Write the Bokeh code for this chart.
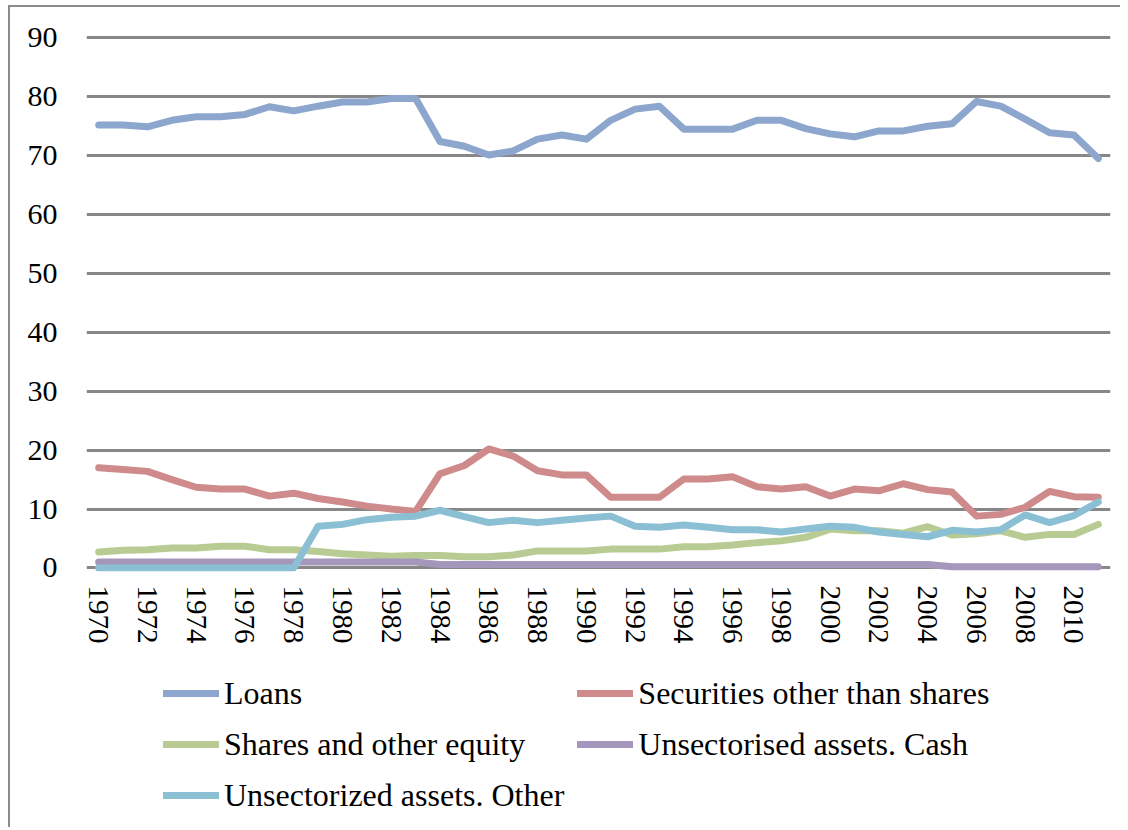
from bokeh.plotting import figure
from bokeh.layouts import column
from bokeh.models import ColumnDataSource, FixedTicker, Legend, LegendItem, Range1d
from bokeh.embed import file_html
from bokeh.resources import INLINE

years = list(range(1970, 2012))
loans = [75.2, 75.2, 74.9, 76.0, 76.6, 76.6, 77.0, 78.3, 77.6, 78.4, 79.1, 79.1, 79.7, 79.7,
         72.4, 71.6, 70.1, 70.8, 72.8, 73.5, 72.8,
         76.0, 77.9, 78.4, 74.5, 74.5, 74.5, 76.0, 76.0, 74.6, 73.7,
         73.2, 74.2, 74.2, 75.0, 75.4, 79.2, 78.4, 76.2, 73.9, 73.5, 69.5]
securities = [17.0, 16.7, 16.4, 15.0, 13.7, 13.4, 13.4, 12.2, 12.7, 11.8, 11.2, 10.5, 10.0, 9.6,
              16.0, 17.4, 20.2, 19.0, 16.5, 15.8, 15.8,
              12.0, 12.0, 12.0, 15.1, 15.1, 15.5, 13.8, 13.4, 13.8, 12.2,
              13.4, 13.1, 14.3, 13.3, 12.9, 8.8, 9.1, 10.3, 13.0, 12.1, 12.0]
shares = [2.7, 3.0, 3.1, 3.4, 3.4, 3.7, 3.7, 3.1, 3.1, 2.8, 2.4, 2.2, 2.0, 2.1,
          2.1, 1.9, 1.9, 2.2, 2.9, 2.9, 2.9,
          3.2, 3.2, 3.2, 3.6, 3.6, 3.9, 4.3, 4.6, 5.2, 6.6,
          6.3, 6.3, 5.9, 7.0, 5.6, 5.8, 6.3, 5.2, 5.7, 5.7, 7.4]
cash = [1.0] * 14 + [0.6] * 21 + [0.2] * 7
other = [0.0] * 9 + [7.1, 7.4, 8.2, 8.6, 8.8, 9.8, 8.7, 7.7, 8.1, 7.7, 8.1, 8.5,
                     8.8, 7.1, 6.9, 7.3, 6.9, 6.5, 6.5, 6.1, 6.6, 7.1,
                     6.9, 6.1, 5.7, 5.3, 6.4, 6.1, 6.5, 9.0, 7.7, 8.9, 11.2]

series_names = ["Loans", "Securities other than shares", "Shares and other equity",
                "Unsectorised assets. Cash", "Unsectorized assets. Other"]
series_colors = ["#8DA6CD", "#CF8B8B", "#B8CB93", "#A596BB", "#8BBFD4"]
y_ticks = list(range(0, 91, 10))
x_ticks = years[::2]

src = ColumnDataSource(dict(year=years, loans=loans, securities=securities,
                            shares=shares, cash=cash, other=other))
keys = ["loans", "securities", "shares", "cash", "other"]

# main chart
p = figure(width=1110, height=654, output_backend="svg", toolbar_location=None,
           x_range=Range1d(1969.5, 2011.5), y_range=Range1d(-0.6, 90.4),
           min_border_left=76, min_border_right=10, min_border_top=28, min_border_bottom=90)
p.outline_line_color = None
p.background_fill_color = "white"
p.border_fill_color = "white"

for k, c in zip(keys, series_colors):
    p.line("year", k, source=src, line_color=c, line_width=7,
           line_join="round", line_cap="round")

p.xgrid.visible = False
p.ygrid.grid_line_color = "#878787"
p.ygrid.grid_line_width = 3
p.yaxis.ticker = FixedTicker(ticks=y_ticks)
p.xaxis.ticker = FixedTicker(ticks=x_ticks)
for ax in (p.xaxis[0], p.yaxis[0]):
    ax.axis_line_color = None
    ax.major_tick_line_color = None
    ax.minor_tick_line_color = None
    ax.major_tick_out = 0
    ax.major_tick_in = 0
    ax.major_label_text_font = "Liberation Serif"
    ax.major_label_text_color = "black"
p.yaxis.major_label_text_font_size = "30px"
p.xaxis.major_label_text_font_size = "29px"
p.yaxis.major_label_standoff = 29
p.xaxis.major_label_standoff = 14
p.xaxis.major_label_orientation = "vertical"

# legend panel (separate figure so the legend is not clipped by the chart frame);
# its lines use the same data but lie outside this panel's ranges
lg = figure(width=1110, height=166, output_backend="svg", toolbar_location=None,
            x_range=Range1d(0, 1), y_range=Range1d(0, 1),
            x_axis_location=None, y_axis_location=None,
            min_border_left=0, min_border_right=0, min_border_top=0, min_border_bottom=0)
lg.outline_line_color = None
lg.grid.visible = False
lg.border_fill_color = "white"
rend = {}
for k, n, c in zip(keys, series_names, series_colors):
    rend[n] = lg.line("year", k, source=src, line_color=c, line_width=7, line_cap="round")
# row-major reading order in a 2-column legend (Bokeh fills columns first)
order = [series_names[i] for i in (0, 2, 4, 1, 3)]
items = [LegendItem(label=n, renderers=[rend[n]]) for n in order]
legend = Legend(items=items, location=(77, 13), ncols=2,
                glyph_width=56, glyph_height=38, label_height=38,
                label_standoff=5, spacing=13, padding=0, margin=0,
                border_line_color=None, background_fill_alpha=0,
                label_text_font="Liberation Serif", label_text_font_size="32px",
                label_text_color="black")
lg.add_layout(legend, "center")

layout = column(p, lg, spacing=0)
layout.styles = {"border-top": "2px solid #8c8c8c", "border-left": "2px solid #8c8c8c",
                 "margin-left": "8px", "margin-top": "5px"}

open("out.html", "w").write(file_html(layout, INLINE))
